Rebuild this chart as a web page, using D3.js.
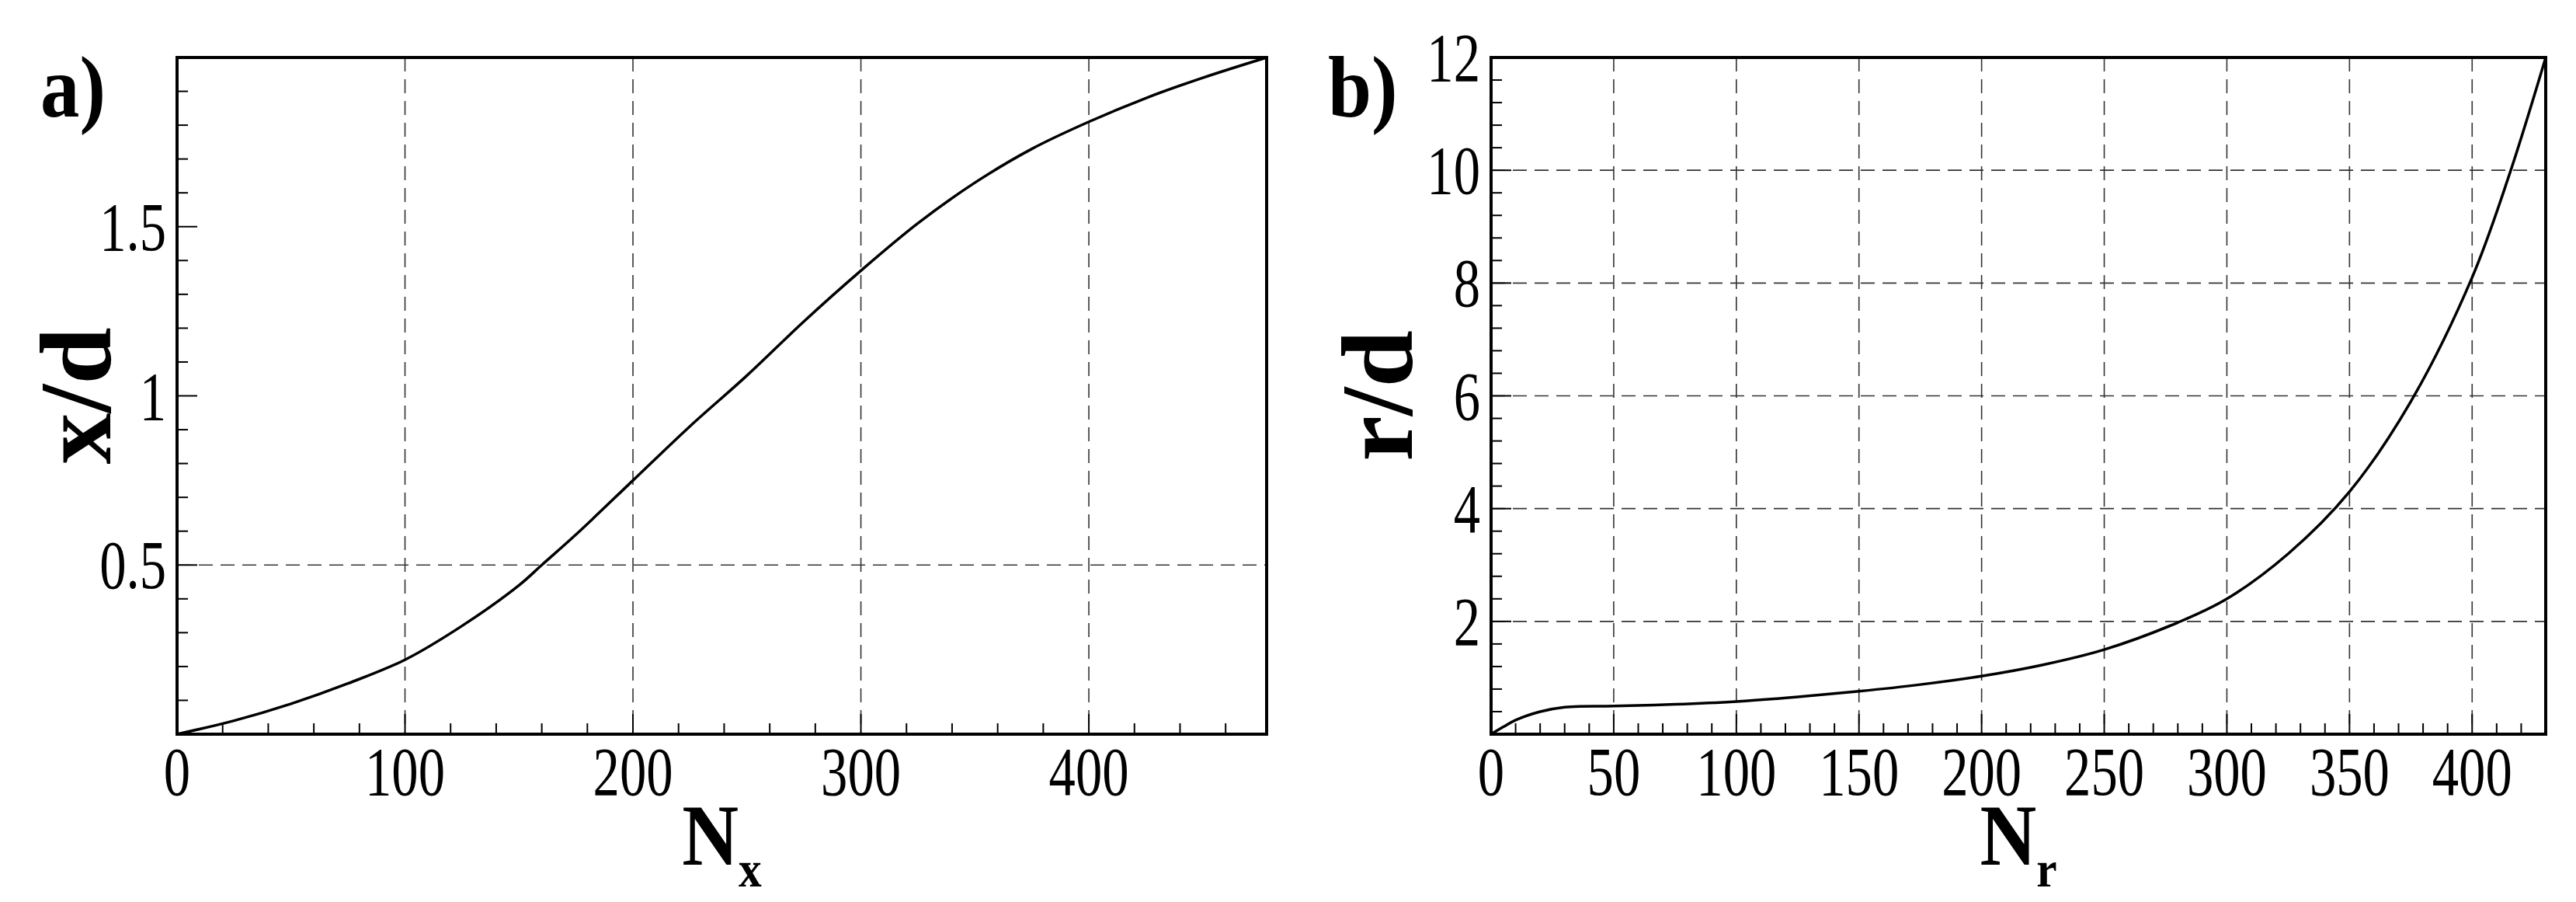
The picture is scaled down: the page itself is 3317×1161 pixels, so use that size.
<!DOCTYPE html>
<html>
<head>
<meta charset="utf-8">
<script src="https://cdn.jsdelivr.net/npm/d3@7"></script>
<style>
  body { margin: 0; background: #fff; }
  text { font-family: "Liberation Serif", "Times New Roman", serif; fill: #000; }
</style>
</head>
<body>
<svg id="chart" width="3317" height="1161"></svg>
<script>
// panel a: x/d versus N_x
const nxValues = [0, 25, 50, 75, 100, 125, 150, 160, 175, 200, 225, 250, 275, 300, 325, 350, 375, 400, 425, 450, 478];
const xdValues = [0, 0.04, 0.09, 0.15, 0.22, 0.32, 0.44, 0.5, 0.59, 0.75, 0.91, 1.06, 1.22, 1.37, 1.51, 1.63, 1.73, 1.81, 1.88, 1.94, 2.0];
const aXTicks = [0, 100, 200, 300, 400];
const aYTicks = [0.5, 1, 1.5];

// panel b: r/d versus N_r
const nrValues = [0, 5, 10, 20, 30, 50, 75, 100, 125, 150, 175, 200, 225, 250, 280, 300, 325, 350, 375, 400, 415, 430];
const rdValues = [0, 0.13, 0.25, 0.4, 0.48, 0.5, 0.53, 0.58, 0.66, 0.76, 0.88, 1.03, 1.23, 1.5, 1.98, 2.4, 3.2, 4.3, 5.9, 8.1, 9.9, 12];
const bXTicks = [0, 50, 100, 150, 200, 250, 300, 350, 400];
const bYTicks = [2, 4, 6, 8, 10, 12];

const svg = d3.select('#chart');
const SX = 0.78; // narrow serif look

function panel(opt) {
  const g = svg.append('g');
  const x = d3.scaleLinear().domain(opt.xDomain).range([opt.left, opt.right]);
  const y = d3.scaleLinear().domain(opt.yDomain).range([opt.bottom, opt.top]);

  // dashed grid
  g.selectAll('.vg').data(opt.xGrid).join('line')
    .attr('x1', d => x(d)).attr('x2', d => x(d))
    .attr('y1', opt.top).attr('y2', opt.bottom)
    .attr('stroke', '#333').attr('stroke-width', 1.6).attr('stroke-dasharray', '18,10');
  g.selectAll('.hg').data(opt.yGrid).join('line')
    .attr('y1', d => y(d)).attr('y2', d => y(d))
    .attr('x1', opt.left).attr('x2', opt.right)
    .attr('stroke', '#333').attr('stroke-width', 1.6).attr('stroke-dasharray', '18,10');

  // inward ticks
  const xMinor = d3.range(opt.xDomain[0], opt.xDomain[1] + 0.001, opt.xMinorStep);
  const yMinor = d3.range(opt.yDomain[0], opt.yDomain[1] + 0.001, opt.yMinorStep);
  g.selectAll('.xm').data(xMinor).join('line')
    .attr('x1', d => x(d)).attr('x2', d => x(d))
    .attr('y1', opt.bottom).attr('y2', d => opt.bottom - (opt.xTicks.includes(d) ? 26 : 14))
    .attr('stroke', '#000').attr('stroke-width', 2);
  g.selectAll('.ym').data(yMinor).join('line')
    .attr('y1', d => y(d)).attr('y2', d => y(d))
    .attr('x1', opt.left).attr('x2', d => opt.left + (opt.yTicks.some(t => Math.abs(t - d) < 1e-6) ? 26 : 14))
    .attr('stroke', '#000').attr('stroke-width', 2);

  // curve
  const line = d3.line().x(d => x(d[0])).y(d => y(d[1])).curve(d3.curveCatmullRom);
  g.append('path').datum(d3.zip(opt.xs, opt.ys))
    .attr('fill', 'none').attr('stroke', '#000').attr('stroke-width', 3.5).attr('d', line);

  // frame
  g.append('rect').attr('x', opt.left).attr('y', opt.top)
    .attr('width', opt.right - opt.left).attr('height', opt.bottom - opt.top)
    .attr('fill', 'none').attr('stroke', '#000').attr('stroke-width', 4);

  // tick labels
  g.selectAll('.xl').data(opt.xTicks).join('text')
    .attr('transform', d => `translate(${x(d)},${opt.bottom + 78}) scale(${SX},1)`)
    .attr('text-anchor', 'middle').attr('font-size', 88).text(d => d);
  g.selectAll('.yl').data(opt.yTicks).join('text')
    .attr('transform', d => `translate(${opt.left - 14},${y(d) + 30}) scale(${SX},1)`)
    .attr('text-anchor', 'end').attr('font-size', 88).text(d => d);

  // axis titles
  const xt = g.append('text')
    .attr('transform', `translate(${(opt.left + opt.right) / 2},${opt.bottom + 168}) scale(0.9,1)`)
    .attr('text-anchor', 'middle').attr('font-size', 112).attr('font-weight', 'bold');
  xt.append('tspan').text('N');
  xt.append('tspan').attr('font-size', 66).attr('dy', 28).text(opt.xSub);
  g.append('text').attr('transform', `translate(${opt.yTitleX},${(opt.top + opt.bottom) / 2}) rotate(-90)`)
    .attr('text-anchor', 'middle').attr('font-size', 132).attr('font-weight', 'bold').text(opt.yTitle);

  g.append('text').attr('transform', `translate(${opt.tagX},150) scale(0.9,1)`)
    .attr('font-size', 112).attr('font-weight', 'bold').text(opt.tag);
}

panel({
  left: 228, right: 1631, top: 74, bottom: 945,
  xDomain: [0, 478], yDomain: [0, 2],
  xs: nxValues, ys: xdValues,
  xTicks: aXTicks, yTicks: aYTicks,
  xGrid: [100, 200, 300, 400], yGrid: [0.5],
  xMinorStep: 20, yMinorStep: 0.1,
  xSub: 'x', yTitle: 'x/d', yTitleX: 142, tag: 'a)', tagX: 52
});

panel({
  left: 1920, right: 3278, top: 74, bottom: 945,
  xDomain: [0, 430], yDomain: [0, 12],
  xs: nrValues, ys: rdValues,
  xTicks: bXTicks, yTicks: bYTicks,
  xGrid: [50, 100, 150, 200, 250, 300, 350, 400], yGrid: [2, 4, 6, 8, 10],
  xMinorStep: 10, yMinorStep: 0.4,
  xSub: 'r', yTitle: 'r/d', yTitleX: 1818, tag: 'b)', tagX: 1710
});
</script>
</body>
</html>
